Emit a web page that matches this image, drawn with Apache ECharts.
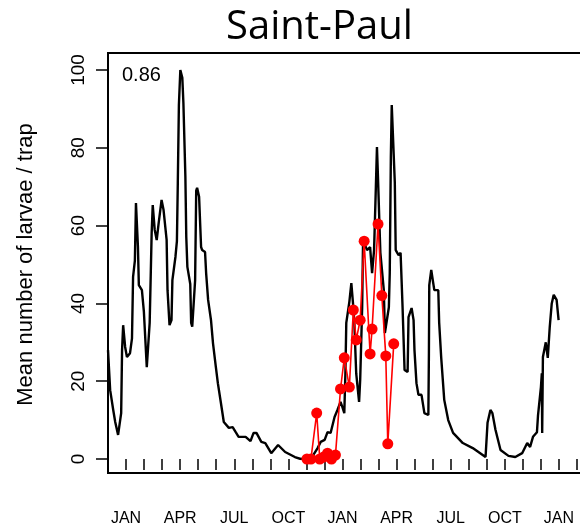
<!DOCTYPE html>
<html>
<head>
<meta charset="utf-8">
<script src="https://cdn.jsdelivr.net/npm/echarts@6/dist/echarts.min.js"></script>
<style>
html,body{margin:0;padding:0;background:#fff;}
#chart{width:580px;height:527px;}
</style>
</head>
<body>
<div id="chart"></div>
<script>
// x values are months since 1 December of the first year (1 = JAN)
var modelMonths = [0.0,0.12,0.29,0.40,0.56,0.73,0.78,0.84,0.89,0.95,1.05,1.22,1.33,1.39,1.49,1.55,1.66,1.71,1.88,1.99,2.15,2.21,2.31,2.42,2.48,2.59,2.70,2.81,2.97,3.08,3.25,3.30,3.41,3.52,3.57,3.74,3.82,3.87,3.93,4.01,4.12,4.18,4.29,4.34,4.40,4.56,4.61,4.67,4.83,4.89,4.94,5.05,5.16,5.22,5.38,5.44,5.55,5.71,5.82,5.98,6.09,6.26,6.42,6.70,6.91,7.08,7.24,7.63,7.90,8.07,8.23,8.50,8.72,9.05,9.43,9.82,10.36,10.69,11.08,11.35,11.62,11.79,12.01,12.17,12.34,12.56,12.72,12.89,12.99,13.10,13.16,13.21,13.38,13.49,13.60,13.65,13.76,13.92,13.98,14.09,14.14,14.36,14.53,14.64,14.75,14.85,14.91,14.97,15.05,15.10,15.29,15.35,15.57,15.62,15.68,15.73,15.84,15.90,15.95,16.11,16.22,16.33,16.44,16.61,16.66,16.83,16.94,16.99,17.10,17.21,17.38,17.54,17.65,17.76,17.79,17.81,17.92,18.03,18.09,18.31,18.36,18.47,18.64,18.86,19.13,19.67,20.22,20.93,21.04,21.20,21.31,21.48,21.76,22.20,22.58,22.96,23.24,23.40,23.56,23.78,23.84,24.00,24.05,24.07,24.11,24.27,24.38,24.49,24.60,24.71,24.87,24.98];
var modelValues = [28,17.7,12.6,9.5,6.2,11.8,28,34.4,34,28.8,26.2,27.2,31,46.8,51,65.8,54.5,44.7,43.4,37.8,23.6,23.4,35,58,65.3,58.9,56.3,60.7,66.6,64,56.3,43.4,34.4,35.7,46,52,56,71,91,100,98,91.5,72.5,57,49.4,45,35,34,46,69,69.7,67.4,54.5,53.7,53.2,47.8,40.9,35.7,29.8,23.6,19.5,14.4,9.5,8,8.2,6.9,5.7,5.7,4.6,6.7,6.7,4.4,4.1,1.5,3.6,1.8,0.5,0,0.3,0.8,2.8,4.4,4.9,6.9,6.7,10.8,12.6,14.7,13.4,11.8,22,35,40.4,45.2,39,35.7,22,14.7,20.3,39,56.3,53.7,54.5,47.8,53.7,70,80.2,72,60,53,43.4,32.4,39,47.8,77.6,91,91.5,71,53.7,52.4,53,39,22.9,22.4,36.5,38.8,35.7,28,19.5,16.5,16.5,11.8,11.3,11.3,27,44.7,48.6,45.2,43.4,43.4,35,26.2,15.2,10,6.7,4.1,2.8,0.5,9.3,12.6,11.8,7.5,2.3,0.8,0.5,1.5,4.1,3.1,5.7,6.9,11.3,18.5,22,6.7,26.2,30,26,34,40,42.2,40.9,35.7];
var obsMonths = [11.03,11.25,11.57,11.74,11.95,12.17,12.39,12.61,12.89,13.10,13.38,13.60,13.76,13.98,14.20,14.53,14.64,14.97,15.18,15.40,15.51,15.84];
var obsValues = [0,0,11.8,0,0.5,1.5,0,1,18,26,18.5,38.3,30.6,35.7,56,27,33.4,60.4,42,26.5,3.9,29.6];
var labelMonths = [1,4,7,10,13,16,19,22,25];
var labelTexts = ['JAN','APR','JUL','OCT','JAN','APR','JUL','OCT','JAN'];
var yTicks = [0,20,40,60,80,100];

var modelData = modelMonths.map(function(m,i){return [m, modelValues[i]];});
var obsData = obsMonths.map(function(m,i){return [m, obsValues[i]];});

var chart = echarts.init(document.getElementById('chart'), null, {renderer:'canvas'});
chart.setOption({
  animation:false,
  backgroundColor:'#fff',
  title:{text:'Saint-Paul', left:221, top:3,
    textStyle:{fontFamily:'Open Sans', fontSize:40, fontWeight:'normal', color:'#000'}},
  grid:{left:108, top:70, width:475, height:389},
  xAxis:{type:'value', min:0, max:26, interval:1, offset:18,
    axisLine:{show:false},
    axisTick:{show:true, length:11, lineStyle:{color:'#000', width:1.5}},
    splitLine:{show:false},
    axisLabel:{margin:34, fontFamily:'Liberation Sans', fontSize:16, color:'#000',
      formatter:function(v){var i=labelMonths.indexOf(Math.round(v)); return (i>=0 && Math.abs(v-labelMonths[i])<1e-6)?labelTexts[i]:'';}}},
  yAxis:{type:'value', min:yTicks[0], max:yTicks[yTicks.length-1], interval:20,
    axisLine:{show:false},
    axisTick:{show:true, length:12, lineStyle:{color:'#000', width:1.5}},
    splitLine:{show:false},
    axisLabel:{rotate:90, margin:20, fontFamily:'Liberation Sans', fontSize:19, color:'#000'},
    name:'Mean number of larvae / trap', nameLocation:'middle', nameGap:71,
    nameTextStyle:{fontFamily:'Liberation Sans', fontSize:22, color:'#000'}},
  graphic:[
    {type:'rect', shape:{x:108, y:53, width:490, height:420}, style:{fill:'none', stroke:'#000', lineWidth:2}, z:100},
    {type:'text', left:122, top:65, style:{text:'0.86', font:'20px "Liberation Sans"', fill:'#000'}}
  ],
  series:[
    {type:'line', data:modelData, symbol:'none', lineStyle:{color:'#000', width:2.4}, z:2},
    {type:'line', data:obsData, symbol:'circle', symbolSize:11, clip:false,
      itemStyle:{color:'#ff0000'}, lineStyle:{color:'#ff0000', width:1.6}, z:3}
  ]
});
</script>
</body>
</html>
